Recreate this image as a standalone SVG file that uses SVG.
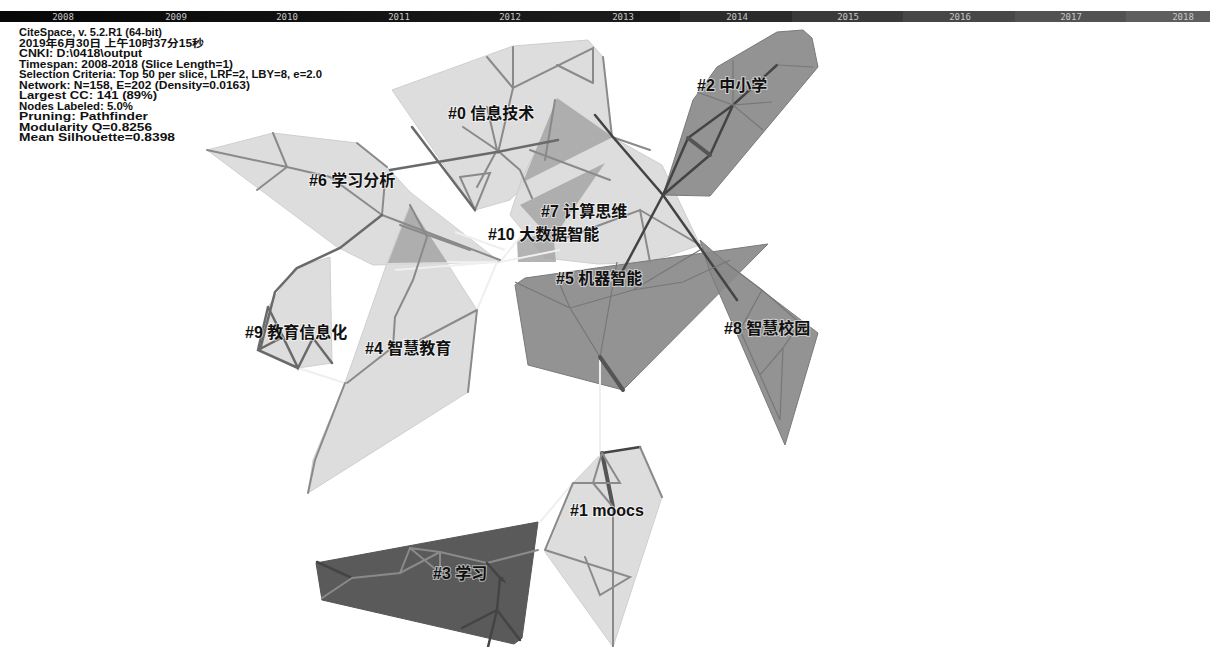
<svg xmlns="http://www.w3.org/2000/svg" width="1210" height="647" viewBox="0 0 1210 647">
<defs>
<linearGradient id="bar" x1="0" x2="1" y1="0" y2="0">
<stop offset="0" stop-color="#070707"/><stop offset="1" stop-color="#1a1a1a"/>
</linearGradient>
</defs>
<style>
.yr{font-family:"DejaVu Sans Mono","Liberation Mono",monospace;font-size:9px;fill:#c8c8c8;text-anchor:middle}
.hd{font-family:"Liberation Sans","Noto Sans CJK SC",sans-serif;font-size:10px;font-weight:bold;fill:#111}
.lt{fill:#d9d9d9;fill-opacity:.9;stroke:#cfcfcf;stroke-width:1}
.md{fill:#a6a6a6;fill-opacity:.85;stroke:none}
.dk{fill:#8a8a8a;fill-opacity:.92;stroke:#7a7a7a;stroke-width:1}
.dd{fill:#5a5a5a;stroke:#555;stroke-width:1}
.lbl{font-family:"Liberation Sans","Noto Sans CJK SC",sans-serif;font-size:16px;font-weight:bold;fill:#111;stroke:#fff;stroke-width:2;stroke-opacity:.55;paint-order:stroke}
.e1{stroke:#8a8a8a;stroke-width:2;fill:none;stroke-linecap:round}
.e2{stroke:#6a6a6a;stroke-width:2.5;fill:none;stroke-linecap:round}
.e3{stroke:#555;stroke-width:4;fill:none;stroke-linecap:round}
.ew{stroke:#efefef;stroke-width:2;fill:none}
.ed{stroke:#777;stroke-width:1.2;fill:none}
.eb{stroke:#444;stroke-width:2.5;fill:none;stroke-linecap:round}
</style>
<rect width="1210" height="647" fill="#fff"/>
<g id="timeline">
<rect x="0" y="11" width="560" height="11" fill="url(#bar)"/>
<rect x="560" y="11" width="120" height="11" fill="#1b1b1b"/>
<rect x="680" y="11" width="112" height="11" fill="#2b2b2b"/>
<rect x="792" y="11" width="111" height="11" fill="#3a3a3a"/>
<rect x="903" y="11" width="112" height="11" fill="#474747"/>
<rect x="1015" y="11" width="111" height="11" fill="#525252"/>
<rect x="1126" y="11" width="84" height="11" fill="#5e5e5e"/>
<text class="yr" x="63" y="20">2008</text>
<text class="yr" x="176" y="20">2009</text>
<text class="yr" x="287" y="20">2010</text>
<text class="yr" x="399" y="20">2011</text>
<text class="yr" x="510" y="20">2012</text>
<text class="yr" x="623" y="20">2013</text>
<text class="yr" x="737" y="20">2014</text>
<text class="yr" x="848" y="20">2015</text>
<text class="yr" x="960" y="20">2016</text>
<text class="yr" x="1071" y="20">2017</text>
<text class="yr" x="1183" y="20">2018</text>
</g>
<g id="info">
<text class="hd" x="19" y="36" textLength="143" lengthAdjust="spacingAndGlyphs">CiteSpace, v. 5.2.R1 (64-bit)</text>
<text class="hd" x="19" y="46.5" textLength="185" lengthAdjust="spacingAndGlyphs">2019年6月30日 上午10时37分15秒</text>
<text class="hd" x="19" y="57" textLength="123" lengthAdjust="spacingAndGlyphs">CNKI: D:\0418\output</text>
<text class="hd" x="19" y="67.5" textLength="214" lengthAdjust="spacingAndGlyphs">Timespan: 2008-2018 (Slice Length=1)</text>
<text class="hd" x="19" y="78" textLength="303" lengthAdjust="spacingAndGlyphs">Selection Criteria: Top 50 per slice, LRF=2, LBY=8, e=2.0</text>
<text class="hd" x="19" y="88.5" textLength="231" lengthAdjust="spacingAndGlyphs">Network: N=158, E=202 (Density=0.0163)</text>
<text class="hd" x="19" y="99" textLength="138" lengthAdjust="spacingAndGlyphs">Largest CC: 141 (89%)</text>
<text class="hd" x="19" y="109.5" textLength="114" lengthAdjust="spacingAndGlyphs">Nodes Labeled: 5.0%</text>
<text class="hd" x="19" y="120" textLength="129" lengthAdjust="spacingAndGlyphs">Pruning: Pathfinder</text>
<text class="hd" x="19" y="130.5" textLength="133" lengthAdjust="spacingAndGlyphs">Modularity Q=0.8256</text>
<text class="hd" x="19" y="141" textLength="156" lengthAdjust="spacingAndGlyphs">Mean Silhouette=0.8398</text>
</g>
<g id="cluster-6"><polygon class="lt" points="207,150 273,133 357,143 387,167 410,192 500,262 373,265 337,247"/></g>
<g id="cluster-9"><polygon class="lt" points="330,257 295,268 268,307 258,350 298,368 332,363"/></g>
<g id="cluster-4"><polygon class="lt" points="410,205 477,310 468,392 308,493 313,460 345,383 387,263"/><polygon class="md" points="410,206 388,263 447,262"/></g>
<g id="cluster-0"><polygon class="lt" points="392,90 513,46 588,40 603,57 612,137 545,165 510,200 475,210"/></g>
<g id="cluster-7"><polygon class="lt" points="510,215 522,178 547,128 612,137 662,165 700,245 650,262 598,264 545,258"/><polygon class="md" points="557,98 613,137 523,182"/><polygon class="md" points="605,163 520,205 552,240"/></g>
<g id="cluster-10"><polygon class="md" points="517,240 553,232 556,262 518,262"/></g>
<g id="cluster-2"><polygon class="dk" points="663,195 693,100 717,67 777,32 803,30 812,38 818,67 710,196"/></g>
<g id="cluster-5"><polygon class="dk" points="515,285 525,278 768,244 623,390 528,365"/></g>
<g id="cluster-8"><polygon class="dk" points="700,240 725,262 818,333 785,445 710,272" fill-opacity=".8"/></g>
<g id="cluster-1"><polygon class="lt" points="602,453 640,447 662,497 613,647 545,552 573,483"/></g>
<g id="cluster-3"><polygon class="dd" points="316,563 538,522 522,638 514,644 322,600"/></g>
<g id="connectors">
<!-- light cross links -->
<path class="ew" d="M497,262 L395,270 M497,262 L447,262 M497,262 L477,310 M500,262 L530,225 M500,262 L560,250 M505,250 L455,232 M600,360 L600,460 M298,368 L345,383 M545,552 L573,483 M540,522 L573,483"/>
<!-- #0 -->
<path class="e1" d="M487,57 L513,88 M513,47 L513,88 L593,48 L593,83 M557,65 L593,83 M513,88 L498,153 M463,127 L497,150 M487,107 L497,150 M497,150 L477,187 M460,177 L490,173 L475,210 L460,177 M497,150 L520,170 L532,198 M555,100 L545,160 M530,150 L610,180"/>
<path class="e2" d="M412,127 L475,210"/>
<path class="e2" d="M390,170 L497,152 L558,140"/>
<!-- #7 -->
<path class="e1" d="M603,57 L612,137 M612,137 L650,150 M640,210 L700,245 M600,225 L640,210 L650,262 M560,240 L600,225"/>
<path class="eb" d="M595,115 L613,137 L663,195 L737,300"/>
<!-- #2 -->
<path class="eb" d="M663,195 L688,138 L710,155 L663,195 M688,138 L733,105 L710,155 M733,105 L777,65"/>
<path class="e3" d="M688,138 L710,155"/>
<path class="ed" d="M697,92 L733,105 L763,130 M733,105 L772,102 M733,105 L733,60 M777,65 L813,67"/>
<path class="eb" d="M663,195 L622,272"/>
<!-- #5 -->
<path class="ed" d="M515,282 L570,308 L600,357 M570,308 L633,290 L683,282 L730,260 M600,357 L617,262 M570,308 L560,285 M633,290 L700,250"/>
<path class="e3" d="M600,357 L623,390"/>
<!-- #8 -->
<path class="ed" d="M725,262 L762,290 L800,323 L783,348 L780,420 M762,290 L740,330 L760,375 L783,348 M740,330 L800,323 M760,375 L780,420"/>
<!-- #6 -->
<path class="e1" d="M207,150 L287,167 M273,133 L287,167 L257,190 M287,167 L330,177 L382,215 L385,180 M382,215 L500,260 M357,143 L387,167 M400,225 L470,250"/>
<path class="e2" d="M382,215 L340,248 L297,268 L275,292 L260,350"/>
<!-- #9 -->
<path class="e2" d="M268,307 L258,350 L298,368 M258,350 L283,337 L298,368 L313,338 L332,363 M283,337 L268,307"/>
<!-- #4 -->
<path class="e1" d="M427,237 L413,280 L395,317 L393,347 L347,383 M477,310 L420,340 M345,383 L315,460 L308,493 M477,310 L468,392 M410,205 L427,237"/>
<!-- #1 -->
<path class="eb" d="M602,453 L640,447"/>
<path class="e3" d="M602,453 L613,507"/>
<path class="e1" d="M602,453 L593,483 L573,483 L620,483 L602,453 M593,483 L613,507 M613,507 L613,647 M545,550 L630,577 L600,595 L585,557 M640,447 L662,497 M573,483 L545,550"/>
<!-- #3 -->
<path class="eb" d="M317,562 L352,578"/>
<path class="e1" d="M352,578 L400,573 L410,548 L440,552 L487,563 L538,550 M410,548 L440,573 M440,552 L400,573 M440,552 L440,568 M352,578 L322,598"/>
<path class="eb" d="M487,563 L500,578 L497,610 L462,628 M497,610 L488,647 M500,578 L497,610 M497,610 L520,640 M500,578 L502,580"/>
<path class="eb" d="M500,578 L503,580 L502,578" />
</g>
<g id="labels">
<text class="lbl" x="448" y="119">#0 信息技术</text>
<text class="lbl" x="697" y="91">#2 中小学</text>
<text class="lbl" x="309" y="186">#6 学习分析</text>
<text class="lbl" x="541" y="217">#7 计算思维</text>
<text class="lbl" x="488" y="240">#10 大数据智能</text>
<text class="lbl" x="556" y="284">#5 机器智能</text>
<text class="lbl" x="245" y="338">#9 教育信息化</text>
<text class="lbl" x="365" y="354">#4 智慧教育</text>
<text class="lbl" x="724" y="334">#8 智慧校园</text>
<text class="lbl" x="570" y="516">#1 moocs</text>
<text class="lbl" x="433" y="579">#3 学习</text>
</g>
</svg>
